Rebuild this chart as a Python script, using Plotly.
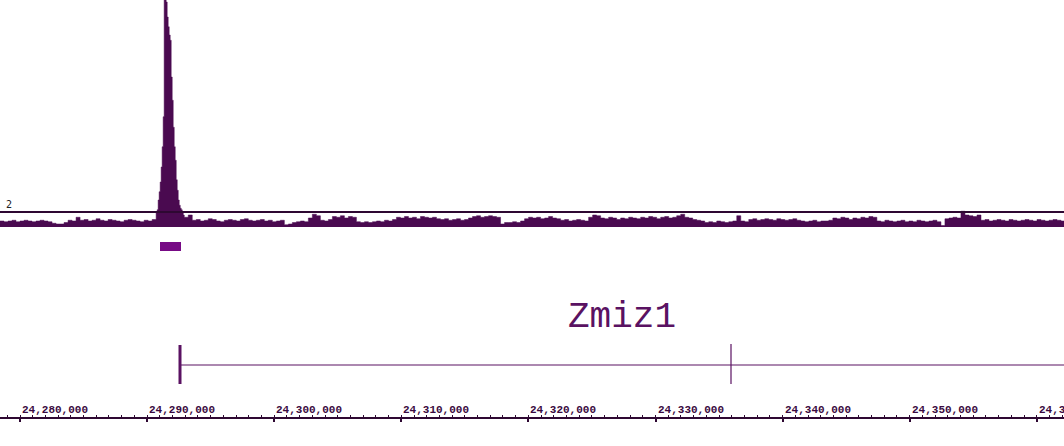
import plotly.graph_objects as go

# ---------------- data ----------------
VIEW_START = 24278426
VIEW_END = 24362140
BIN = 315          # bp per background bin
PEAK_BIN = 79      # bp per bin in the peak region

bg_left = [0.8, 0.7, 0.8, 0.9, 0.7, 0.8, 0.9, 0.8, 0.7, 0.8, 0.9, 0.8, 0.7,
           0.5, 0.4, 0.4, 0.6,
           0.9, 0.8, 1.3,
           0.9, 1.0, 0.8, 0.9, 1.1, 0.9, 0.8, 1.0, 0.9, 0.8, 0.7, 0.9, 1.0, 0.9, 0.8, 0.7, 0.9, 0.8, 1.0]

peak_vals = [1.9, 2.3, 3.6, 4.7, 6.0, 8.0, 10.7, 14.7, 32.0, 32.0, 30.0, 28.0, 26.7, 25.6,
             24.9, 20.0, 16.9, 13.3, 10.7, 8.9, 6.3, 4.9, 3.6, 2.9, 2.5, 2.3, 1.9, 1.6]

bg_right = [1.3, 1.6,
            0.9, 1.0, 0.8, 0.9, 1.1, 1.0, 0.8, 0.7, 0.9, 1.0, 0.9, 0.8, 1.0, 1.1, 0.9, 0.8, 0.9, 1.0, 0.8, 0.9, 0.7, 0.8, 0.9,
            0.3, 0.4,
            0.6, 0.7, 0.8, 0.7, 1.2,
            1.7, 1.5,
            0.9, 0.8, 1.0,
            1.4, 1.3, 1.5, 1.2, 1.4, 1.3,
            0.7, 0.6, 0.7, 0.6, 0.7, 0.8, 0.7, 0.9, 0.8, 1.0,
            1.3, 1.2, 1.4, 1.2, 1.3, 1.1, 1.4, 1.3, 1.2, 1.3, 1.1,
            1.0, 1.1, 0.9, 1.0, 1.1, 0.9, 1.0, 1.2,
            1.4, 1.5, 1.3, 1.4, 1.5, 1.4, 1.3,
            0.4,
            0.6, 0.6, 0.7, 0.6, 0.8,
            1.1, 1.3, 1.2, 1.3, 1.1, 1.2, 1.4, 1.2, 1.1,
            0.9, 1.0, 0.8, 0.9, 1.0, 0.9, 0.8, 1.3,
            1.6, 1.5,
            1.2, 1.1, 1.3, 1.2, 1.0, 1.2, 1.1, 1.3, 1.2, 1.1,
            1.3, 1.2, 1.4, 1.3, 1.1, 1.3, 1.4, 1.2, 1.3, 1.5, 1.7, 1.3, 1.2,
            1.0, 0.9, 0.8,
            0.6, 0.7, 0.6, 0.8, 0.7, 0.6, 0.7, 0.8,
            1.5,
            0.8, 0.7,
            1.0, 1.1, 0.9, 1.0, 1.1, 1.0, 0.9, 1.1, 1.0, 0.9, 1.0, 1.1, 0.9,
            0.8, 0.7, 0.8, 0.9, 0.7, 0.8, 0.8, 0.9,
            1.2, 1.1, 1.3, 1.2, 1.0, 1.2, 1.1, 1.3, 1.2, 1.4,
            1.3,
            0.8, 0.7, 0.9, 0.8, 0.7, 0.8, 0.9, 0.7, 0.8, 0.7, 0.9, 0.8, 0.7, 0.8, 0.9, 0.7,
            0.2,
            1.1, 1.2, 1.3, 1.2,
            2.1,
            1.6, 1.5, 1.4, 1.6,
            0.9, 1.0, 0.8, 0.9, 1.0, 0.9, 0.8, 1.0, 0.9, 0.8, 0.9, 1.0, 0.9, 0.8, 1.0, 0.9, 0.8, 0.9, 1.0, 0.9, 0.8]

THRESHOLD = 2
SIGNAL_MAX = 30.27

region_start, region_end = 24291015, 24292667   # peak call
gene_name = "Zmiz1"
gene_start = 24292588
gene_mark = 24335940
gene_end = 24420000

tick_values = [24280000, 24290000, 24300000, 24310000, 24320000, 24330000, 24340000, 24350000, 24360000]
tick_labels = ["24,280,000", "24,290,000", "24,300,000", "24,310,000", "24,320,000",
               "24,330,000", "24,340,000", "24,350,000", "24,360,000"]
minor_step = 1000

# ---------------- build signal positions ----------------
xs, ys = [], []
pos = VIEW_START
for v in bg_left:
    xs.append(pos); ys.append(v); pos += BIN
for v in peak_vals:
    xs.append(pos); ys.append(v); pos += PEAK_BIN
for v in bg_right:
    xs.append(pos); ys.append(v); pos += BIN
xs.append(pos); ys.append(ys[-1])

SIG = "#4a0a50"
DARK = "#2e0832"
PURPLE = "#5a1262"

fig = go.Figure()
fig.add_trace(go.Scatter(x=xs, y=ys, mode="lines", line=dict(shape="hv", width=0.5, color=SIG),
                         fill="tozeroy", fillcolor=SIG, hoverinfo="skip", showlegend=False))

# gene model (on pixel-like track axis)
fig.add_trace(go.Scatter(x=[gene_start, gene_end], y=[365, 365], yaxis="y2", mode="lines",
                         line=dict(color=PURPLE, width=1.2), showlegend=False, hoverinfo="skip"))
fig.add_trace(go.Scatter(x=[gene_start, gene_start], y=[345, 384], yaxis="y2", mode="lines",
                         line=dict(color=PURPLE, width=3), showlegend=False, hoverinfo="skip"))
fig.add_trace(go.Scatter(x=[gene_mark, gene_mark], y=[344, 384], yaxis="y2", mode="lines",
                         line=dict(color=PURPLE, width=1.2), showlegend=False, hoverinfo="skip"))

fig.add_annotation(x=(gene_start + VIEW_END) / 2, y=317, xref="x", yref="y2", text=gene_name,
                   showarrow=False, font=dict(family="Liberation Mono, Courier New, monospace",
                                              size=36, color=PURPLE))

# ruler tick labels (left-aligned at each tick)
for tv, tl in zip(tick_values, tick_labels):
    fig.add_annotation(x=tv, y=410, xref="x", yref="y2", text="<b>" + tl + "</b>", showarrow=False,
                       xanchor="left", yanchor="middle",
                       font=dict(family="Liberation Mono", size=11, color="#3a0a40"))

# threshold line and label
fig.add_shape(type="line", xref="paper", x0=0, x1=1, yref="y", y0=THRESHOLD, y1=THRESHOLD,
              line=dict(color=DARK, width=2))
fig.add_annotation(x=0.004, y=THRESHOLD, xref="paper", yref="y", text="2", showarrow=False,
                   xanchor="left", yanchor="bottom",
                   font=dict(family="DejaVu Sans Mono", size=10, color="#222222"))

# peak region bar
fig.add_shape(type="rect", xref="x", yref="y2", x0=region_start, x1=region_end, y0=242, y1=251,
              fillcolor="#770a85", line=dict(width=0))

ruler_pos = (446 - 418) / 446
fig.update_layout(
    width=1064, height=446, margin=dict(l=0, r=0, t=0, b=0),
    paper_bgcolor="white", plot_bgcolor="rgba(0,0,0,0)",
    xaxis=dict(range=[VIEW_START, VIEW_END], anchor="free", position=ruler_pos,
               showgrid=False, zeroline=False, showline=True, linecolor=DARK, linewidth=2,
               tickvals=tick_values, showticklabels=False, ticks="outside", ticklen=3,
               tickwidth=2, tickcolor=DARK,
               minor=dict(dtick=minor_step, tick0=tick_values[0], ticks="inside", ticklen=2,
                          tickwidth=1, tickcolor=DARK, showgrid=False)),
    yaxis=dict(domain=[(446 - 227) / 446, 1], range=[0, SIGNAL_MAX], visible=False),
    yaxis2=dict(domain=[0, 1], range=[446, 0], visible=False, anchor="x"),
)

fig.write_html("out.html", config={"displayModeBar": False},
               post_script="document.body.style.margin='0';")
